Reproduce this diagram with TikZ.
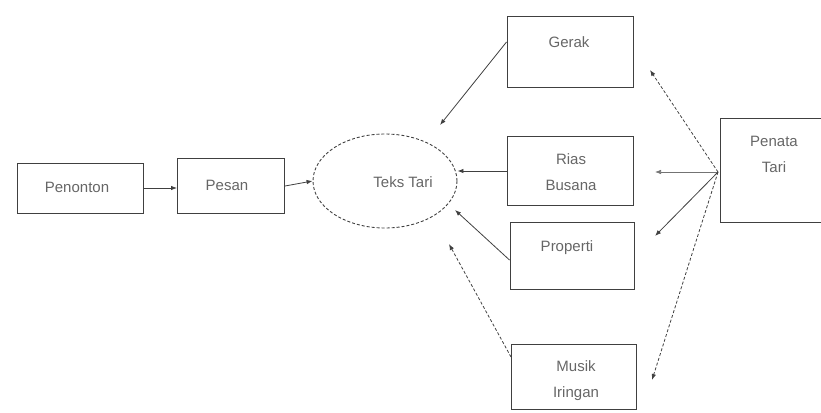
\documentclass[tikz,border=0pt]{standalone}
\usepackage{fontspec}
\setmainfont{Liberation Sans}
\usetikzlibrary{arrows.meta,shapes.geometric}
\begin{document}
\begin{tikzpicture}[x=1pt,y=-1pt,
  box/.style={draw=black!75,line width=1pt,minimum width=#1,inner sep=0pt},
  box/.default={126pt},
  lbl/.style={text=black!60,align=center,inner sep=0pt,font=\fontsize{15}{26}\selectfont},
  conn/.style={draw=black!75,line width=0.8pt,-{Latex[length=6pt,width=4.5pt]}},
  dconn/.style={conn,densely dashed}]
\useasboundingbox (0,0) rectangle (821,412);
\node[box,minimum height=50pt] (pen) at (80,188) {};
\node[lbl] (penl) at (77,187) {Penonton};
\node[box=107pt,minimum height=55pt] (pes) at (231,186) {};
\node[lbl] (pesl) at (227,185) {Pesan};
\node[draw=black!75,line width=0.9pt,densely dashed,ellipse,minimum width=144pt,minimum height=94pt,inner sep=0pt] (teks) at (385,181) {};
\node[lbl] (teksl) at (403,182) {Teks Tari};
\node[box,minimum height=70pt] (ger) at (570,52) {};
\node[lbl] (gerl) at (569,42) {Gerak};
\node[box,minimum height=69pt] (rias) at (570,171) {};
\node[lbl] (riasl) at (571,172) {Rias\\Busana};
\node[box=124pt,minimum height=67pt] (prop) at (572,256) {};
\node[lbl] (propl) at (567,248) {Properti};
\node[box=125pt,minimum height=65pt] (mus) at (574,377) {};
\node[lbl] (musl) at (576,381) {Musik\\Iringan};
\node[box=120pt,minimum height=104pt,anchor=west] (pt) at (720,170) {};
\node[lbl] (ptl) at (774,154) {Penata\\Tari};
\coordinate (ptw) at (718,172);
\draw[conn] (pen.east) -- (pes.west |- pen.east);
\draw[conn] (pes.east) -- (teks.west);
\draw[conn] (ger.west) ++(0,-10) -- (440,125);
\draw[conn] (rias.west) -- (teks.east |- rias.west);
\draw[conn] (prop.west) ++(0,4) -- (455,210);
\draw[dconn] (mus.west) ++(0,-20) -- (449,244);
\draw[dconn] (ptw) -- (650,70);
\draw[conn,draw=black!55,line width=0.6pt] (ptw) -- (655,172);
\draw[conn] (ptw) -- (655,236);
\draw[dconn] (ptw) -- (652,380);
\end{tikzpicture}
\end{document}
